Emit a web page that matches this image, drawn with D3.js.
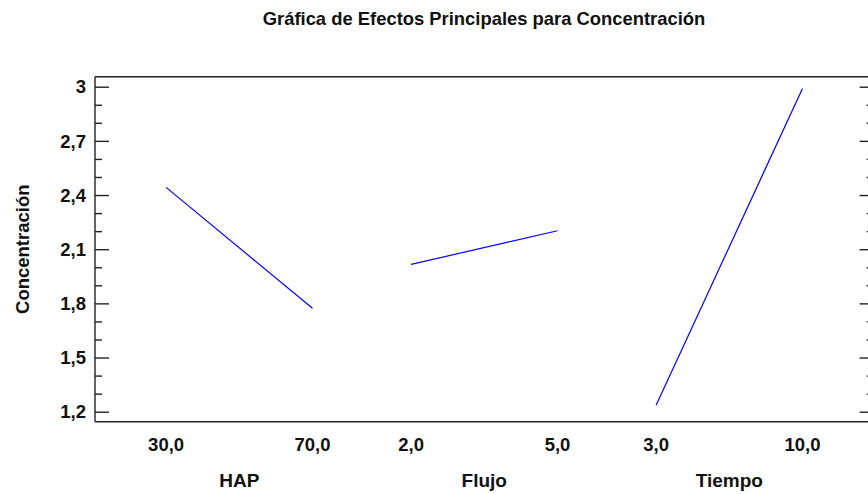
<!DOCTYPE html>
<html>
<head>
<meta charset="utf-8">
<script src="https://cdn.jsdelivr.net/npm/d3@7"></script>
<style>
  body { margin: 0; background: #fff; }
  svg { display: block; font-family: "Liberation Sans", Arial, sans-serif; font-weight: bold; }
</style>
</head>
<body>
<svg></svg>
<script>
const size = { w: 868, h: 494 };
const plot = { l: 95, r: 873.6, t: 76.7, b: 421.7 };

// factors with their low / high levels and the mean response at each level
const factors = ["HAP", "Flujo", "Tiempo"];
const levelLabels = [["30,0", "70,0"], ["2,0", "5,0"], ["3,0", "10,0"]];
const lowMeans = [2.4425, 2.016, 1.2354];
const highMeans = [1.7725, 2.202, 2.9907];
const yTicks = [1.2, 1.5, 1.8, 2.1, 2.4, 2.7, 3.0];

const svg = d3.select("svg").attr("width", size.w).attr("height", size.h);

let x = d3.scalePoint().domain(factors).range([plot.l, plot.r]).padding(0.589);
let halfW = 73.2; // offset of each level from the factor's center
let level = d3.scaleLinear().domain([0, 1]).range([-halfW, halfW]);
let y = d3.scaleLinear().domain([1.1446, 3.0554]).range([plot.b, plot.t]);

// --------- TITLE ----------
svg.append("text")
	.attr("x", 484)
	.attr("y", 24.5)
	.attr("text-anchor", "middle")
	.style("font-size", "18.4px")
	.attr("fill", "#111")
	.text("Gráfica de Efectos Principales para Concentración");

// --------- FRAME ----------
let frameG = svg.append("g").attr("stroke", "#222").attr("stroke-width", 1.4);
frameG.append("line").attr("x1", plot.l).attr("x2", plot.l).attr("y1", plot.t).attr("y2", plot.b);
frameG.append("line").attr("x1", plot.r).attr("x2", plot.r).attr("y1", plot.t).attr("y2", plot.b);
frameG.append("line").attr("x1", plot.l).attr("x2", plot.r).attr("y1", plot.t).attr("y2", plot.t);
frameG.append("line").attr("x1", plot.l).attr("x2", plot.r).attr("y1", plot.b).attr("y2", plot.b);

// --------- Y AXES ----------
let minorTicks = d3.range(12, 31).map((d) => d / 10).filter((d) => !yTicks.some((t) => Math.abs(t - d) < 1e-6));

let leftAxis = d3.axisRight(y).tickValues(yTicks).tickSize(14).tickFormat("");
let leftMinor = d3.axisRight(y).tickValues(minorTicks).tickSize(7).tickFormat("");
let rightAxis = d3.axisLeft(y).tickValues(yTicks).tickSize(14).tickFormat("");
let rightMinor = d3.axisLeft(y).tickValues(minorTicks).tickSize(7).tickFormat("");

[[leftAxis, plot.l], [leftMinor, plot.l], [rightAxis, plot.r], [rightMinor, plot.r]].forEach(([ax, px]) => {
	let g = svg.append("g").attr("transform", `translate(${px},0)`).call(ax);
	g.select(".domain").remove();
	g.selectAll("line").attr("stroke", "#222").attr("stroke-width", 1.4);
});

svg.append("g")
	.selectAll("text")
	.data(yTicks)
	.join("text")
	.attr("x", plot.l - 9)
	.attr("y", (d) => y(d))
	.attr("dy", "0.36em")
	.attr("text-anchor", "end")
	.style("font-size", "18.5px")
	.attr("fill", "#111")
	.text((d) => d3.format(".1f")(d).replace(".", ",").replace(",0", ""));

svg.append("text")
	.attr("transform", `translate(28.5,${(plot.t + plot.b) / 2}) rotate(-90)`)
	.attr("text-anchor", "middle")
	.style("font-size", "18.5px")
	.attr("fill", "#111")
	.text("Concentración");

// --------- X LABELS ----------
let levelData = [];
factors.forEach((f, i) => {
	levelData.push({ f: f, k: 0, label: levelLabels[i][0], v: lowMeans[i] });
	levelData.push({ f: f, k: 1, label: levelLabels[i][1], v: highMeans[i] });
});

svg.append("g")
	.selectAll("text")
	.data(levelData)
	.join("text")
	.attr("x", (d) => x(d.f) + level(d.k))
	.attr("y", 450.5)
	.attr("text-anchor", "middle")
	.style("font-size", "18.5px")
	.attr("fill", "#111")
	.text((d) => d.label);

svg.append("g")
	.selectAll("text")
	.data(factors)
	.join("text")
	.attr("x", (d) => x(d))
	.attr("y", 487)
	.attr("text-anchor", "middle")
	.style("font-size", "19px")
	.attr("fill", "#111")
	.text((d) => d);

// --------- EFFECT LINES ----------
let line = d3.line()
	.x((d) => x(d.f) + level(d.k))
	.y((d) => y(d.v));

svg.append("g")
	.selectAll("path")
	.data(factors.map((f) => levelData.filter((d) => d.f === f)))
	.join("path")
	.attr("d", line)
	.attr("fill", "none")
	.attr("stroke", "#0000ff")
	.attr("stroke-width", 1.2);
</script>
</body>
</html>
